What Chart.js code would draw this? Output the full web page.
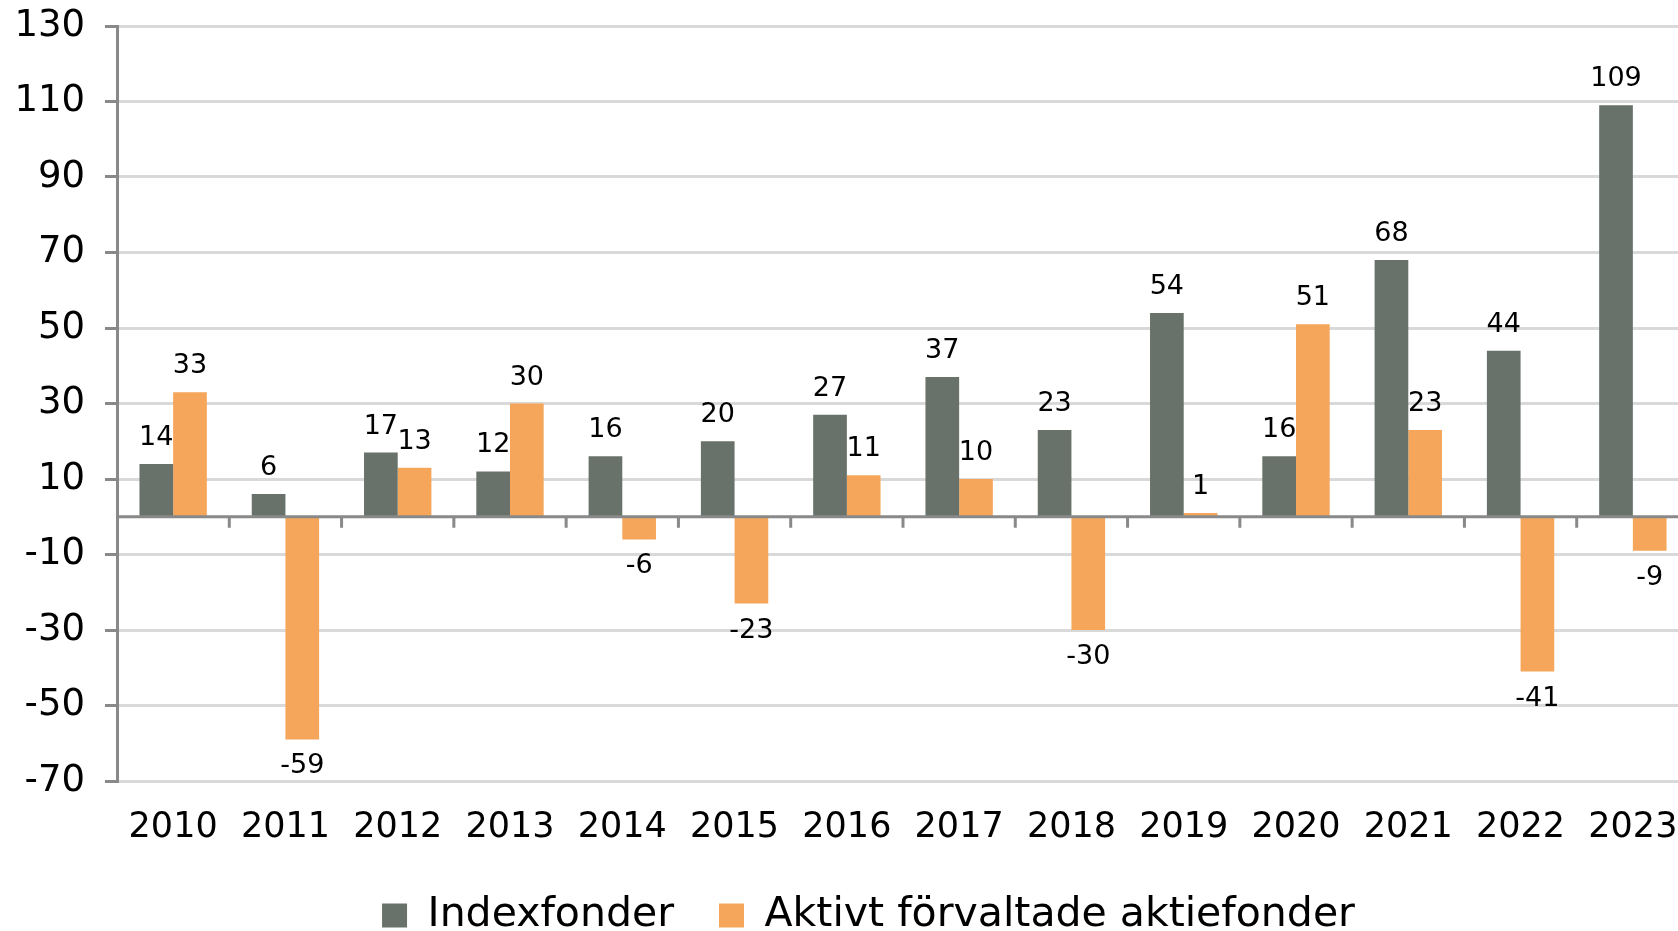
<!DOCTYPE html>
<html>
<head>
    <title>Indexfonder vs aktivt förvaltade aktiefonder</title>
    <script src="https://cdn.jsdelivr.net/npm/chart.js@4.4.1/dist/chart.umd.min.js"></script>
    <style>
        html, body {
            margin: 0;
            padding: 0;
            background-color: white;
            overflow: hidden;
        }
        .chart-container {
            width: 1689px;
            height: 931px;
        }
    </style>
</head>
<body>
    <div class="chart-container">
        <canvas id="flowChart"></canvas>
    </div>

    <script>
    const years = ['2010', '2011', '2012', '2013', '2014', '2015', '2016',
                   '2017', '2018', '2019', '2020', '2021', '2022', '2023'];
    const indexfonder = [14, 6, 17, 12, 16, 20, 27, 37, 23, 54, 16, 68, 44, 109];
    const aktivaFonder = [33, -59, 13, 30, -6, -23, 11, 10, -30, 1, 51, 23, -41, -9];
    const seriesNames = ['Indexfonder', 'Aktivt förvaltade aktiefonder'];

    const fontFamily = '"DejaVu Sans", Verdana, sans-serif';
    const axisGray = '#898989';

    // nollinje med små streck mellan kategorierna
    const zeroLinePlugin = {
        id: 'zeroLine',
        afterDatasetsDraw(chart) {
            const { ctx, chartArea, scales } = chart;
            const y0 = scales.y.getPixelForValue(0);
            ctx.save();
            ctx.strokeStyle = axisGray;
            ctx.lineWidth = 3;
            ctx.beginPath();
            ctx.moveTo(chartArea.left, y0);
            ctx.lineTo(chartArea.right, y0);
            for (let i = 0; i < years.length - 1; i++) {
                const x = (scales.x.getPixelForValue(i) + scales.x.getPixelForValue(i + 1)) / 2;
                ctx.moveTo(x, y0);
                ctx.lineTo(x, y0 + 11);
            }
            ctx.stroke();
            ctx.restore();
        }
    };

    // värdeetiketter ovanför/under staplarna
    const valueLabelPlugin = {
        id: 'valueLabels',
        afterDatasetsDraw(chart) {
            const { ctx } = chart;
            ctx.save();
            ctx.font = '27px ' + fontFamily;
            ctx.fillStyle = '#000';
            ctx.textAlign = 'center';
            ctx.textBaseline = 'middle';
            chart.data.datasets.forEach((ds, di) => {
                const meta = chart.getDatasetMeta(di);
                meta.data.forEach((bar, i) => {
                    const v = ds.data[i];
                    const y = v >= 0 ? bar.y - 26 : bar.y + 27;
                    ctx.fillText(String(v), bar.x, y);
                });
            });
            ctx.restore();
        }
    };

    // legenden ligger lite till höger om mitten i originalet
    const legendShift = {
        id: 'legendShift',
        afterLayout(chart) {
            chart.legend.left += 24;
            chart.legend.right += 24;
        }
    };

    const ctx = document.getElementById('flowChart').getContext('2d');
    const chart = new Chart(ctx, {
        type: 'bar',
        data: {
            labels: years,
            datasets: [{
                label: seriesNames[0],
                data: indexfonder,
                backgroundColor: '#68726A',
                categoryPercentage: 0.6,
                barPercentage: 1.0
            }, {
                label: seriesNames[1],
                data: aktivaFonder,
                backgroundColor: '#F5A65A',
                categoryPercentage: 0.6,
                barPercentage: 1.0
            }]
        },
        options: {
            responsive: true,
            maintainAspectRatio: false,
            animation: false,
            layout: {
                padding: { left: 0, right: 0, top: 26, bottom: 0 }
            },
            scales: {
                x: {
                    grid: { display: false, drawTicks: false },
                    border: { display: false },
                    ticks: {
                        color: '#000',
                        padding: 26,
                        maxRotation: 0,
                        autoSkip: false,
                        font: { family: fontFamily, size: 35 }
                    },
                    afterFit: (scale) => {
                        scale.height = 69;
                        scale.paddingLeft = 0;
                        scale.paddingRight = 0;
                    }
                },
                y: {
                    min: -70,
                    max: 130,
                    ticks: {
                        stepSize: 20,
                        color: '#000',
                        padding: 20,
                        font: { family: fontFamily, size: 37 }
                    },
                    grid: {
                        color: '#d9d9d9',
                        lineWidth: 3,
                        tickColor: axisGray,
                        tickWidth: 3,
                        tickLength: 12
                    },
                    border: { color: axisGray, width: 3 },
                    afterFit: (scale) => {
                        scale.width = 117;
                        scale.paddingTop = 0;
                        scale.paddingBottom = 0;
                    }
                }
            },
            plugins: {
                legend: {
                    position: 'bottom',
                    maxHeight: 81,
                    labels: {
                        color: '#000',
                        boxWidth: 25,
                        boxHeight: 24,
                        padding: 45,
                        font: { family: fontFamily, size: 41 }
                    }
                },
                tooltip: { enabled: false }
            }
        },
        plugins: [zeroLinePlugin, valueLabelPlugin, legendShift]
    });
    </script>
</body>
</html>
